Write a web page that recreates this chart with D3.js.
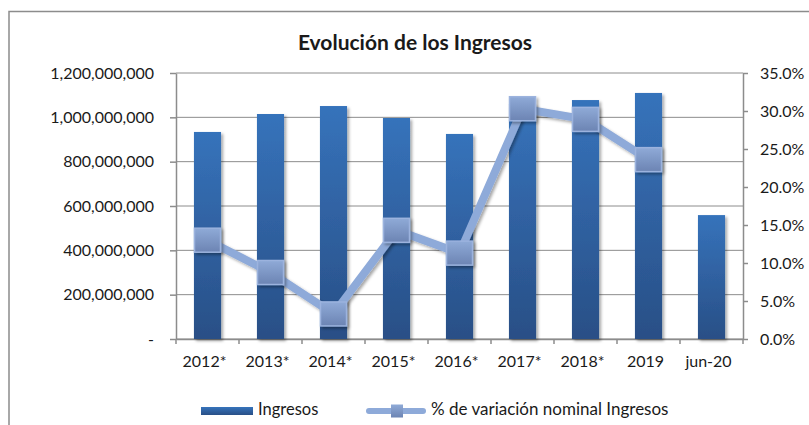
<!DOCTYPE html>
<html lang="es">
<head>
<meta charset="UTF-8">
<title>Evolución de los Ingresos</title>
<script src="https://d3js.org/d3.v7.min.js"></script>
<style>
  body { margin: 0; background: #fff; }
  svg text { font-family: Lato, "Open Sans", sans-serif; fill: #1a1a1a; }
</style>
</head>
<body>
<svg id="chart" width="809" height="425"></svg>
<script>
// data
var categories = ["2012*", "2013*", "2014*", "2015*", "2016*", "2017*", "2018*", "2019", "jun-20"];
var ingresos = [934e6, 1015e6, 1051e6, 997e6, 925e6, 1060e6, 1078e6, 1110e6, 559e6];
var variacion = [0.130, 0.0875, 0.033, 0.143, 0.113, 0.303, 0.289, 0.236, null];
var leftTicks = [0, 200e6, 400e6, 600e6, 800e6, 1000e6, 1200e6];
var rightTicks = [0, 0.05, 0.10, 0.15, 0.20, 0.25, 0.30, 0.35];

var svg = d3.select("#chart");
var plot = { left: 176, right: 743, top: 73, bottom: 339 };
var gridColor = "#8c8c8c";

var defs = svg.append("defs");
var barGrad = defs.append("linearGradient").attr("id", "barGrad")
    .attr("x1", 0).attr("y1", 0).attr("x2", 0).attr("y2", 1);
barGrad.append("stop").attr("offset", "0%").attr("stop-color", "#3673bb");
barGrad.append("stop").attr("offset", "100%").attr("stop-color", "#294f86");

var mkGrad = defs.append("linearGradient").attr("id", "mkGrad")
    .attr("x1", 0).attr("y1", 0).attr("x2", 0).attr("y2", 1);
mkGrad.append("stop").attr("offset", "0%").attr("stop-color", "#8faad7");
mkGrad.append("stop").attr("offset", "100%").attr("stop-color", "#6c84b3");

var shadow = defs.append("filter").attr("id", "shadow")
    .attr("x", "-30%").attr("y", "-30%").attr("width", "160%").attr("height", "160%");
shadow.append("feDropShadow").attr("dx", 2).attr("dy", 2)
    .attr("stdDeviation", 1.8).attr("flood-color", "#000").attr("flood-opacity", 0.35);

// outer frame (runs off the right/bottom edge)
svg.append("rect").attr("x", 9).attr("y", 11.5).attr("width", 840).attr("height", 440)
    .attr("fill", "none").attr("stroke", "#8c8c8c").attr("stroke-width", 1.5);

var x = d3.scaleBand().domain(categories).range([plot.left, plot.right])
    .paddingInner(0.57).paddingOuter(0.285);
var yL = d3.scaleLinear().domain([0, 1.2e9]).range([plot.bottom, plot.top]);
var yR = d3.scaleLinear().domain([0, 0.35]).range([plot.bottom, plot.top]);

// gridlines
svg.append("g").selectAll("line").data(leftTicks).join("line")
    .attr("x1", plot.left).attr("x2", plot.right)
    .attr("y1", function(d) { return yL(d); }).attr("y2", function(d) { return yL(d); })
    .attr("stroke", gridColor).attr("stroke-width", 1);

// axes
var axL = svg.append("g").attr("transform", "translate(" + plot.left + ",0)")
    .call(d3.axisLeft(yL).tickValues(leftTicks).tickSizeInner(6).tickSizeOuter(0).tickPadding(16)
        .tickFormat(function(d) { return d === 0 ? "-" : d3.format(",")(d); }));
var axR = svg.append("g").attr("transform", "translate(" + plot.right + ",0)")
    .call(d3.axisRight(yR).tickValues(rightTicks).tickSizeInner(5).tickSizeOuter(0).tickPadding(12)
        .tickFormat(d3.format(".1%")));
var axB = svg.append("g").attr("transform", "translate(0," + plot.bottom + ")")
    .call(d3.axisBottom(x).tickSize(0).tickPadding(17));
axB.selectAll(".tick").attr("transform", function(d) { return "translate(" + (x(d) + x.bandwidth() / 2 - 3) + ",0)"; });
// category separators on the bottom axis
var bounds = d3.range(categories.length + 1).map(function(i) { return plot.left + i * x.step(); });
svg.append("g").selectAll("line").data(bounds).join("line")
    .attr("x1", function(d) { return d; }).attr("x2", function(d) { return d; })
    .attr("y1", plot.bottom).attr("y2", plot.bottom + 5)
    .attr("stroke", gridColor).attr("stroke-width", 1.5);

[axL, axR, axB].forEach(function(a) {
  a.selectAll(".domain").attr("stroke", gridColor).attr("stroke-width", 1.5);
  a.selectAll(".tick line").attr("stroke", gridColor).attr("stroke-width", 1.5);
  a.selectAll("text").attr("font-size", 16).attr("fill", "#1a1a1a");
});

// bars
svg.append("g").selectAll("rect").data(ingresos).join("rect")
    .attr("x", function(d, i) { return x(categories[i]); })
    .attr("y", function(d) { return yL(d); })
    .attr("width", x.bandwidth())
    .attr("height", function(d) { return plot.bottom - yL(d); })
    .attr("fill", "url(#barGrad)")
    .attr("filter", "url(#shadow)");

// variation line
var pts = variacion.map(function(v, i) { return { c: categories[i], v: v }; })
    .filter(function(p) { return p.v !== null; });
var line = d3.line()
    .x(function(p) { return x(p.c) + x.bandwidth() / 2; })
    .y(function(p) { return yR(p.v); });
svg.append("path").datum(pts).attr("d", line)
    .attr("fill", "none").attr("stroke", "#8eaad9").attr("stroke-width", 8)
    .attr("stroke-linejoin", "round").attr("stroke-linecap", "round")
    .attr("filter", "url(#shadow)");
svg.append("g").selectAll("rect").data(pts).join("rect")
    .attr("x", function(p) { return x(p.c) + x.bandwidth() / 2 - 13; })
    .attr("y", function(p) { return yR(p.v) - 12; })
    .attr("width", 26).attr("height", 24)
    .attr("fill", "url(#mkGrad)")
    .attr("stroke", "#9cb3de").attr("stroke-width", 1.5)
    .attr("filter", "url(#shadow)");

// title
svg.append("text").attr("x", 415).attr("y", 45).attr("text-anchor", "middle")
    .attr("dominant-baseline", "middle")
    .attr("font-size", 21).attr("font-weight", "bold").text("Evolución de los Ingresos");

// legend
var lg = svg.append("g");
lg.append("rect").attr("x", 201).attr("y", 407).attr("width", 52).attr("height", 8)
    .attr("fill", "url(#barGrad)");
lg.append("text").attr("x", 258).attr("y", 411).attr("dominant-baseline", "middle")
    .attr("font-size", 16.5).text("Ingresos");
lg.append("line").attr("x1", 369).attr("x2", 423).attr("y1", 411).attr("y2", 411)
    .attr("stroke", "#8eaad9").attr("stroke-width", 6).attr("stroke-linecap", "round");
lg.append("rect").attr("x", 391).attr("y", 404.5).attr("width", 12).attr("height", 13)
    .attr("fill", "url(#mkGrad)");
lg.append("text").attr("x", 431).attr("y", 411).attr("dominant-baseline", "middle")
    .attr("font-size", 17).text("% de variación nominal Ingresos");
</script>
</body>
</html>
